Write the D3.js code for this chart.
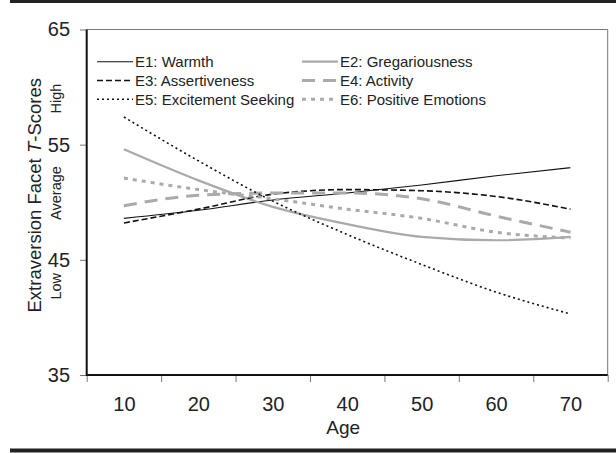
<!DOCTYPE html>
<html>
<head>
<meta charset="utf-8">
<script src="https://cdn.jsdelivr.net/npm/d3@7"></script>
<style>
  body { margin: 0; background: #fff; }
  svg { display: block; font-family: "Liberation Sans", Arial, sans-serif; }
</style>
</head>
<body>
<div id="chart"></div>
<script>
// data
const ages = [10, 20, 30, 40, 50, 60, 70];
const e1 = [48.6, 49.3, 50.2, 50.8, 51.5, 52.3, 53.0];
const e2 = [54.6, 51.9, 49.6, 48.1, 47.0, 46.7, 47.0];
const e3 = [48.2, 49.4, 50.7, 51.1, 51.0, 50.5, 49.4];
const e4 = [49.7, 50.6, 50.8, 50.8, 50.3, 48.8, 47.4];
const e5 = [57.4, 53.6, 50.1, 47.2, 44.6, 42.2, 40.3];
const e6 = [52.1, 51.1, 50.3, 49.4, 48.6, 47.4, 46.9];
const yTicks = [35, 45, 55, 65];
const levels = [["High", 59], ["Average", 50.8], ["Low", 42.7]];

const series = [
  {name: "E1: Warmth", values: e1, color: "#111", width: 1.1, dash: null},
  {name: "E2: Gregariousness", values: e2, color: "#aaa", width: 2.2, dash: null},
  {name: "E3: Assertiveness", values: e3, color: "#111", width: 1.6, dash: "6,3"},
  {name: "E4: Activity", values: e4, color: "#aaa", width: 3, dash: "13,8"},
  {name: "E5: Excitement Seeking", values: e5, color: "#111", width: 1.6, dash: "2,3"},
  {name: "E6: Positive Emotions", values: e6, color: "#aaa", width: 3, dash: "4,5"}
];

const width = 616, height = 453;
const pLeft = 86.7, pRight = 607.7, pTop = 29.5, pBottom = 375;

const svg = d3.select('#chart').append('svg')
  .attr('width', width).attr('height', height);

// rules above and below the figure
svg.append('rect').attr('x', 10).attr('y', 0).attr('width', 606).attr('height', 3).attr('fill', '#222');
svg.append('rect').attr('x', 10).attr('y', 448.5).attr('width', 606).attr('height', 4).attr('fill', '#222');

const x = d3.scaleLinear([5, 75], [pLeft, pRight]);
const y = d3.scaleLinear([35, 65], [pBottom, pTop]);

// frame
svg.append('line').attr('x1', pLeft).attr('x2', pRight).attr('y1', pTop).attr('y2', pTop)
  .attr('stroke', '#777').attr('stroke-width', 1);
svg.append('line').attr('x1', pRight).attr('x2', pRight).attr('y1', pTop).attr('y2', pBottom)
  .attr('stroke', '#777').attr('stroke-width', 1);

// x boundary ticks
const gxTicks = svg.append('g').attr('transform', `translate(0,${pBottom})`)
  .call(d3.axisBottom(x).tickValues(d3.range(5, 76, 10)).tickFormat('').tickSize(7));
gxTicks.select('.domain').remove();
gxTicks.selectAll('line').attr('stroke', '#777');

// x labels at band centres
const gxLab = svg.append('g').attr('transform', `translate(0,${pBottom})`)
  .call(d3.axisBottom(x).tickValues(ages).tickSize(0).tickPadding(22));
gxLab.select('.domain').remove();
gxLab.selectAll('text').attr('font-size', 20).attr('fill', '#222');
gxLab.attr('font-family', null);

// y axis
const gy = svg.append('g').attr('transform', `translate(${pLeft},0)`)
  .call(d3.axisLeft(y).tickValues(yTicks).tickSize(6.7).tickPadding(10));
gy.select('.domain').remove();
gy.selectAll('line').attr('stroke', '#777');
gy.selectAll('text').attr('font-size', 20).attr('fill', '#222');
gy.attr('font-family', null);

// axis lines
svg.append('line').attr('x1', pLeft).attr('x2', pLeft).attr('y1', pTop).attr('y2', pBottom + 1)
  .attr('stroke', '#111').attr('stroke-width', 2);
svg.append('line').attr('x1', pLeft).attr('x2', pRight).attr('y1', pBottom).attr('y2', pBottom)
  .attr('stroke', '#111').attr('stroke-width', 2);

// labels
svg.append('text').attr('x', x(40) - 4).attr('y', 434)
  .attr('text-anchor', 'middle').attr('font-size', 19).attr('fill', '#222').text('Age');

const yl = svg.append('text')
  .attr('transform', `translate(41,${(pTop + pBottom) / 2 - 7})rotate(-90)`)
  .attr('text-anchor', 'middle').attr('font-size', 18.5).attr('fill', '#222');
yl.append('tspan').text('Extraversion Facet ');
yl.append('tspan').attr('font-style', 'italic').text('T');
yl.append('tspan').text('-Scores');

svg.selectAll('text.level').data(levels).join('text')
  .classed('level', true)
  .attr('transform', d => `translate(61,${y(d[1])})rotate(-90)`)
  .attr('text-anchor', 'middle').attr('font-size', 14.5).attr('fill', '#222')
  .text(d => d[0]);

// lines
const line = d3.line()
  .x((d, i) => x(ages[i]))
  .y(d => y(d))
  .curve(d3.curveMonotoneX);

svg.append('g').selectAll('path').data(series).join('path')
  .attr('d', d => line(d.values))
  .attr('fill', 'none')
  .attr('stroke', d => d.color)
  .attr('stroke-width', d => d.width)
  .attr('stroke-dasharray', d => d.dash);

// legend
const legend = svg.append('g');
const items = legend.selectAll('g').data(series).join('g')
  .attr('transform', (d, i) => `translate(${i % 2 ? 302 : 97},${61.7 + Math.floor(i / 2) * 18.8})`);
items.append('line').attr('x1', 0).attr('x2', 36)
  .attr('stroke', d => d.color)
  .attr('stroke-width', d => d.width)
  .attr('stroke-dasharray', d => d.dash);
items.append('text').attr('x', 38).attr('dy', '0.36em')
  .attr('font-size', 15).attr('fill', '#222')
  .text(d => d.name);
</script>
</body>
</html>
